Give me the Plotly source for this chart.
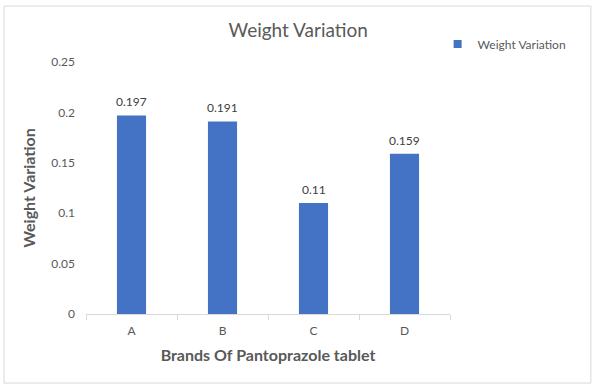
import plotly.graph_objects as go

categories = ["A", "B", "C", "D"]
values = [0.197, 0.191, 0.11, 0.159]
series_name = "Weight Variation"
y_ticks = [0, 0.05, 0.1, 0.15, 0.2, 0.25]
y_ticklabels = ["0", "0.05", "0.1", "0.15", "0.2", "0.25"]

FONT = "Lato, 'Open Sans', sans-serif"
GREY = "#595959"
BLUE = "#4472C4"

fig = go.Figure()
fig.add_trace(go.Bar(
    x=categories, y=values, name=series_name,
    marker=dict(color=BLUE, line=dict(width=0)),
    showlegend=False,
))
# legend entry with a small square swatch
fig.add_trace(go.Scatter(
    x=[None], y=[None], mode="markers", name=series_name,
    marker=dict(symbol="square", size=8, color=BLUE),
    showlegend=True,
))

for c, v in zip(categories, values):
    fig.add_annotation(x=c, y=v, text=str(v), showarrow=False,
                       yanchor="bottom", yshift=4,
                       font=dict(family=FONT, size=12, color="#404040"))

fig.update_layout(
    width=600, height=388,
    margin=dict(l=86, r=150, t=62, b=74),
    paper_bgcolor="white", plot_bgcolor="white",
    bargap=0.68,
    font=dict(family=FONT, color=GREY, size=12),
    title=dict(text="Weight Variation", x=0.497, xanchor="center",
               y=0.923, yanchor="middle",
               font=dict(family=FONT, size=19, color=GREY)),
    legend=dict(x=0.966, y=1.071, xanchor="left", yanchor="middle",
                font=dict(family=FONT, size=12, color=GREY),
                bgcolor="rgba(0,0,0,0)", itemwidth=30),
    xaxis=dict(
        showgrid=False, showline=True, linecolor="#d9d9d9", linewidth=1,
        ticks="outside", tickson="boundaries", ticklen=5, tickcolor="#d9d9d9",
        ticklabelstandoff=6,
        tickfont=dict(family=FONT, size=12, color=GREY),
        title=dict(text="<b>Brands Of Pantoprazole tablet</b>", standoff=12,
                   font=dict(family=FONT, size=16, color=GREY)),
    ),
    yaxis=dict(
        range=[0, 0.25], tickvals=y_ticks, ticktext=y_ticklabels,
        showgrid=False, showline=False, zeroline=False, ticks="",
        ticklabelstandoff=10,
        tickfont=dict(family=FONT, size=12, color=GREY),
        title=dict(text="<b>Weight Variation</b>", standoff=11,
                   font=dict(family=FONT, size=16, color=GREY)),
    ),
    shapes=[dict(type="rect", xref="paper", yref="paper",
                 x0=-0.2253, x1=1.387, y0=-0.274, y1=1.222,
                 line=dict(color="#d9d9d9", width=1), fillcolor="rgba(0,0,0,0)",
                 layer="below")],
)

fig.write_html("out.html", config={"displayModeBar": False},
               post_script="document.body.style.margin='0';")
